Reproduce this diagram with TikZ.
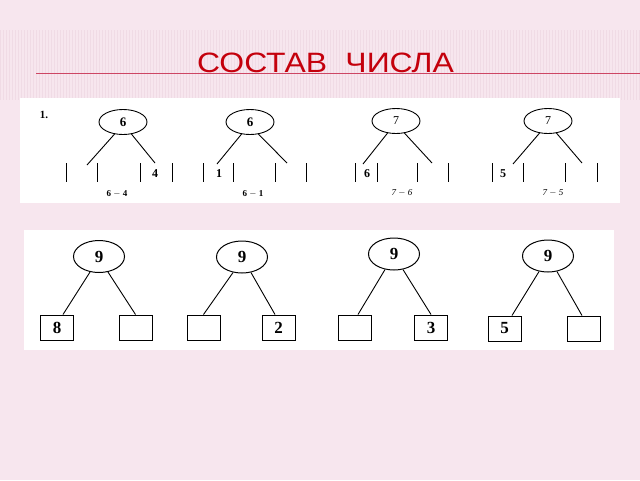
\documentclass[tikz,border=0pt]{standalone}
\usepackage{fontspec}
\setmainfont{Liberation Serif}
\newfontfamily\titlefont{Liberation Sans}
\usetikzlibrary{shapes.geometric,calc}
\definecolor{bgpink}{RGB}{247,230,238}
\definecolor{stripe}{RGB}{234,210,221}
\definecolor{titlered}{RGB}{196,0,12}
\definecolor{rulecol}{RGB}{205,70,100}
\tikzset{
  ell/.style={ellipse,draw,line width=0.9pt,minimum width=48pt,minimum height=25pt,inner sep=0pt,font=\fontsize{13}{13}\selectfont\bfseries},
  ellb/.style={ellipse,draw,line width=1pt,minimum width=51pt,minimum height=32pt,inner sep=0pt,font=\fontsize{17}{17}\selectfont\bfseries},
  cell/.style={draw,line width=1pt,minimum width=33pt,minimum height=25pt,inner sep=0pt,font=\fontsize{17}{17}\selectfont\bfseries},
  branch/.style={line width=0.9pt},
  bar/.style={line width=0.9pt},
  smalldig/.style={font=\fontsize{12}{12}\selectfont\bfseries,inner sep=0pt},
  lab/.style={font=\fontsize{9}{9}\selectfont\bfseries,inner sep=0pt},
  panel/.style={fill=white,draw=none}
}
\begin{document}
\begin{tikzpicture}[x=1pt,y=-1pt]
\useasboundingbox (0,0) rectangle (640,480);
\fill[bgpink] (0,0) rectangle (640,480);
% subtle stripes
\foreach \x in {0,3,...,640}{
  \draw[stripe,line width=0.6pt,opacity=0.5] (\x,30) -- (\x,100);
}
% title
\node[font=\titlefont\fontsize{28}{28}\selectfont,text=titlered,inner sep=0pt,anchor=base] (title) at (325.5,72) {\scalebox{1.14}[1]{СОСТАВ\hspace{16pt}ЧИСЛА}};
\coordinate (rl) at (36,73.5);
\coordinate (rr) at (640,73.5);
\fill[rulecol] ([yshift=-0.8pt]rl) rectangle ([yshift=0.8pt]rr);
% panels
\node[panel,minimum width=600pt,minimum height=105pt,inner sep=0pt] (p1) at (320,150.5) {};
\node[panel,minimum width=590pt,minimum height=120pt,inner sep=0pt] (p2) at (319,290) {};
% panel 1
\node[font=\fontsize{11}{11}\selectfont\bfseries,inner sep=0pt] (num) at (44,115) {1.};
\node[ell] (a1) at (123,122) {6};
\node[ell] (a2) at (250,122) {6};
\node[ell,font=\fontsize{12}{12}\selectfont] (a3) at (396,121) {7};
\node[ell,font=\fontsize{12}{12}\selectfont] (a4) at (548,121) {7};
\coordinate (a1l) at (87,165); \coordinate (a1r) at (155,163);
\coordinate (a2l) at (217,164); \coordinate (a2r) at (287,163);
\coordinate (a3l) at (363,164); \coordinate (a3r) at (432,163);
\coordinate (a4l) at (513,164); \coordinate (a4r) at (582,163);
\foreach \t in {a1,a2,a3,a4}{
  \draw[branch] (\t.235) -- (\t l);
  \draw[branch] (\t.305) -- (\t r);
}
% bars
\foreach \x in {66,97,140,172,203,233,275,306,355,377,417,448,492,523,565,597}{
  \draw[bar] (\x,163) -- (\x,182);
}
\node[smalldig] (d1) at (155,174) {4};
\node[smalldig] (d2) at (219,174) {1};
\node[smalldig] (d3) at (367,174) {6};
\node[smalldig] (d4) at (503,174) {5};
\node[lab] (l1) at (117,194) {6 $-$ 4};
\node[lab] (l2) at (253,194) {6 $-$ 1};
\node[lab,font=\fontsize{9}{9}\selectfont\itshape] (l3) at (402,193) {7 $-$ 6};
\node[lab,font=\fontsize{9}{9}\selectfont\itshape] (l4) at (553,193) {7 $-$ 5};
% panel 2
\node[ellb] (e1) at (99,256.5) {9};
\node[ellb] (e2) at (242,257) {9};
\node[ellb] (e3) at (394,254) {9};
\node[ellb] (e4) at (548,256) {9};
\node[cell] (b1) at (57,327.5) {8};
\node[cell] (b2) at (135.5,327.5) {};
\node[cell] (b3) at (203.5,327.5) {};
\node[cell] (b4) at (278.5,327.5) {2};
\node[cell] (b5) at (355,327.5) {};
\node[cell] (b6) at (431,327.5) {3};
\node[cell] (b7) at (504.5,328.5) {5};
\node[cell] (b8) at (583.5,328.5) {};
\draw[branch] (e1.240) -- ([xshift=6pt]b1.north);
\draw[branch] (e1.300) -- (b2.north);
\draw[branch] (e2.240) -- (b3.north);
\draw[branch] (e2.300) -- ([xshift=-3.5pt]b4.north);
\draw[branch] (e3.240) -- ([xshift=3pt]b5.north);
\draw[branch] (e3.300) -- (b6.north);
\draw[branch] (e4.240) -- ([xshift=7.5pt]b7.north);
\draw[branch] (e4.300) -- ([xshift=-1.5pt]b8.north);
\end{tikzpicture}
\end{document}
